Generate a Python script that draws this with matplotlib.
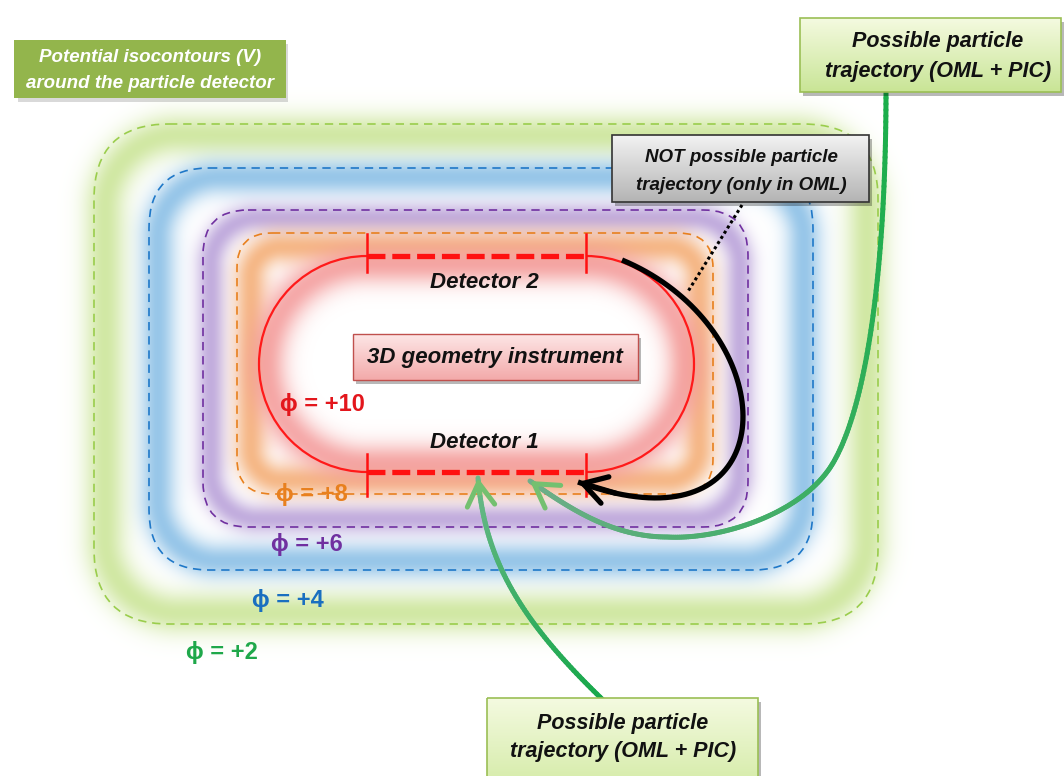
import numpy as np
import matplotlib
matplotlib.use("Agg")
import matplotlib.pyplot as plt
from matplotlib.patches import Rectangle, FancyBboxPatch, Arc
from matplotlib.collections import LineCollection
from matplotlib.colors import to_rgb
from matplotlib.bezier import BezierSegment

plt.rcParams['font.family'] = ['Liberation Sans', 'DejaVu Sans']

W, H = 1064, 776

# isocontours (outer -> inner), pixel coords of the picture
levels = ['+2', '+4', '+6', '+8']
c_left = [94, 149, 203, 237]
c_top = [124, 168, 210, 233]
c_right = [878, 813, 748, 713]
c_bottom = [624, 570, 527, 494]
c_radius = [75, 60, 45, 35]
line_colors = ['#9acd4c', '#1f78c8', '#7030a0', '#e8801e']
glow_colors = ['#cce59a', '#8cc0e6', '#bba4da', '#f4b07a']
glow_offset = [11, 9, 8, 14]
glow_width = [21, 18, 15, 17]

# instrument (phi = +10), a stadium
inst_left, inst_right = 259, 694
inst_top, inst_bottom = 256, 472
det_x0, det_x1 = 367, 586

# phi labels
phi_levels = ['+2', '+4', '+6', '+8', '+10']
phi_x = [222, 288, 307, 312, 322]
phi_y = [652, 600, 545, 495, 405]
phi_colors = ['#1fa84a', '#1a6fc0', '#7030a0', '#e8801e', '#e3161c']

# trajectories (cubic bezier control points)
black_traj = [[(622, 260), (790, 330), (790, 560), (578, 482)]]
green_right_traj = [[(886, 92), (886, 250), (870, 400), (833, 463)],
                    [(833, 463), (803, 514), (720, 540), (667, 537)],
                    [(667, 537), (610, 537), (565, 505), (530, 481)]]
green_bottom_traj = [[(603, 700), (520, 620), (485, 560), (478, 478)]]


def inside_dist(X, Y, x0, y0, x1, y1, r):
    cx, cy = (x0 + x1) / 2, (y0 + y1) / 2
    qx = np.abs(X - cx) - ((x1 - x0) / 2 - r)
    qy = np.abs(Y - cy) - ((y1 - y0) / 2 - r)
    out = np.hypot(np.maximum(qx, 0), np.maximum(qy, 0))
    ins = np.minimum(np.maximum(qx, qy), 0)
    return -(out + ins - r)


def sample(segments, n=80):
    pts = []
    for seg in segments:
        b = BezierSegment(np.array(seg, dtype=float))
        pts.append(b(np.linspace(0, 1, n)))
    return np.vstack(pts)


def gradient_line(ax, pts, c0, c1, lw, z):
    segs = np.stack([pts[:-1], pts[1:]], axis=1)
    t = np.linspace(0, 1, len(segs))[:, None]
    cols = (1 - t) * np.array(to_rgb(c0)) + t * np.array(to_rgb(c1))
    ax.add_collection(LineCollection(segs, colors=cols, linewidths=lw,
                                     capstyle='round', zorder=z))


def arrow_head(ax, pts, color, lw, z):
    ax.annotate('', xy=pts[-1], xytext=pts[-6],
                arrowprops=dict(arrowstyle='->,head_length=0.75,head_width=0.45',
                                lw=lw, color=color, shrinkA=0, shrinkB=0,
                                mutation_scale=22), zorder=z)


def gradient_box(ax, x0, y0, x1, y1, ctop, cbot, edge, lw=1.0, z=6):
    ax.add_patch(Rectangle((x0 + 3, y0 + 4), x1 - x0, y1 - y0, color='k',
                           alpha=0.28, lw=0, zorder=z - 0.2))
    g = np.linspace(0, 1, 64)[:, None, None]
    img = (1 - g) * np.array(to_rgb(ctop)) + g * np.array(to_rgb(cbot))
    ax.imshow(img, extent=(x0, x1, y1, y0), aspect='auto', zorder=z,
              interpolation='bilinear')
    ax.add_patch(Rectangle((x0, y0), x1 - x0, y1 - y0, fill=False, ec=edge,
                           lw=lw, zorder=z + 0.1))


fig = plt.figure(figsize=(W / 100, H / 100), dpi=100)
fig.patch.set_facecolor('white')
ax = fig.add_axes([0, 0, 1, 1])

# soft glows around each isocontour
Y, X = np.mgrid[0:H, 0:W] + 0.5
img = np.ones((H, W, 3))
for i in range(len(levels)):
    d = inside_dist(X, Y, c_left[i], c_top[i], c_right[i], c_bottom[i], c_radius[i] + 10)
    a = 0.9 * np.exp(-((d - glow_offset[i]) / glow_width[i]) ** 2)
    img = img * (1 - a[..., None]) + np.array(to_rgb(glow_colors[i])) * a[..., None]
rr = (inst_bottom - inst_top) / 2
d = inside_dist(X, Y, inst_left, inst_top, inst_right, inst_bottom, rr)
a = 0.85 * np.exp(-((d - 8) / 20) ** 2)
img = img * (1 - a[..., None]) + np.array(to_rgb('#f39a9a')) * a[..., None]
img8 = np.clip(np.round(img * 255), 0, 255).astype(np.uint8)
ax.imshow(img8, extent=(0, W, H, 0), zorder=0, interpolation='nearest')

# dashed isocontours
for i in range(len(levels)):
    ax.add_patch(FancyBboxPatch((c_left[i], c_top[i]), c_right[i] - c_left[i],
                                c_bottom[i] - c_top[i],
                                boxstyle=f"round,pad=0,rounding_size={c_radius[i]}",
                                fill=False, ec=line_colors[i], lw=1.2,
                                ls=(0, (5, 3.5)), zorder=2))

# instrument outline
cy = (inst_top + inst_bottom) / 2
ax.add_patch(Arc((det_x0, cy), 2 * rr, 2 * rr, theta1=90, theta2=270,
                 color='#ff1a1a', lw=1.6, zorder=3))
ax.add_patch(Arc((det_x1, cy), 2 * rr, 2 * rr, theta1=-90, theta2=90,
                 color='#ff1a1a', lw=1.6, zorder=3))
for yy in [inst_top, inst_bottom]:
    ax.plot([det_x0, det_x1], [yy, yy], color='#ff1010', lw=3.8,
            dashes=(3.4, 1.3), zorder=3, solid_capstyle='butt')
for xx in [det_x0, det_x1]:
    ax.plot([xx, xx], [inst_top - 22, inst_top + 16], color='#ff1010', lw=1.8, zorder=3)
    ax.plot([xx, xx], [inst_bottom - 18, inst_bottom + 24], color='#ff1010', lw=1.8, zorder=3)

lbl = dict(fontsize=16, fontweight='bold', style='italic', color='#111111',
           ha='center', va='center', zorder=7)
ax.text(484, 283, 'Detector 2', **lbl)
ax.text(484, 443, 'Detector 1', **lbl)

gradient_box(ax, 353, 334, 638, 380, '#fde6e6', '#f3aaaa', '#c0504d', lw=1.0)
ax.text(495, 357, '3D geometry instrument', **lbl)

for lev, x, y, c in zip(phi_levels, phi_x, phi_y, phi_colors):
    ax.text(x, y, '\u03d5 = ' + lev, fontsize=17, fontweight='bold', color=c,
            ha='center', va='center', zorder=7)

# trajectories
pts = sample(black_traj)
ax.plot(pts[:, 0], pts[:, 1], color='black', lw=3.8, zorder=4,
        solid_capstyle='butt')
arrow_head(ax, pts, 'black', 3.8, 4)

pts = sample(green_right_traj)
gradient_line(ax, pts, '#1aae4a', '#6fae8a', 3.6, 4)
arrow_head(ax, pts, '#74c070', 3.6, 4)

pts = sample(green_bottom_traj)
gradient_line(ax, pts, '#16a84a', '#6cb88a', 3.6, 4)
arrow_head(ax, pts, '#74c070', 3.6, 4)

ax.plot([742, 687], [205, 293], color='black', lw=2.2, ls=(0, (1, 1)), zorder=4)

# label boxes
ax.add_patch(Rectangle((18, 44), 270, 58, color='k', alpha=0.15, lw=0, zorder=5.8))
ax.add_patch(Rectangle((14, 40), 272, 58, color='#93b54c', lw=0, zorder=6))
tl = dict(fontsize=13.5, fontweight='bold', style='italic', color='white',
          ha='center', va='center', zorder=7)
ax.text(150, 57, 'Potential isocontours (V)', **tl)
ax.text(150, 83, 'around the particle detector', **tl)

bx = dict(fontsize=15.5, fontweight='bold', style='italic', color='#111111',
          ha='center', va='center', zorder=7)
gradient_box(ax, 800, 18, 1061, 92, '#f4fae0', '#c9e596', '#9bbf55', lw=1.2)
ax.text(938, 42, 'Possible particle', **bx)
ax.text(938, 72, 'trajectory (OML + PIC)', **bx)

gradient_box(ax, 487, 698, 758, 790, '#f4fae0', '#d4eba6', '#9bbf55', lw=1.2)
ax.text(623, 723, 'Possible particle', **bx)
ax.text(623, 752, 'trajectory (OML + PIC)', **bx)

gradient_box(ax, 612, 135, 869, 202, '#f2f2f2', '#b4b4b4', '#333333', lw=1.2)
gx = dict(bx, fontsize=13.5)
ax.text(741, 158, 'NOT possible particle', **gx)
ax.text(741, 185, 'trajectory (only in OML)', **gx)

ax.set_xlim(0, W)
ax.set_ylim(H, 0)
ax.axis('off')
fig.savefig('out.png', dpi=100, facecolor='white')
